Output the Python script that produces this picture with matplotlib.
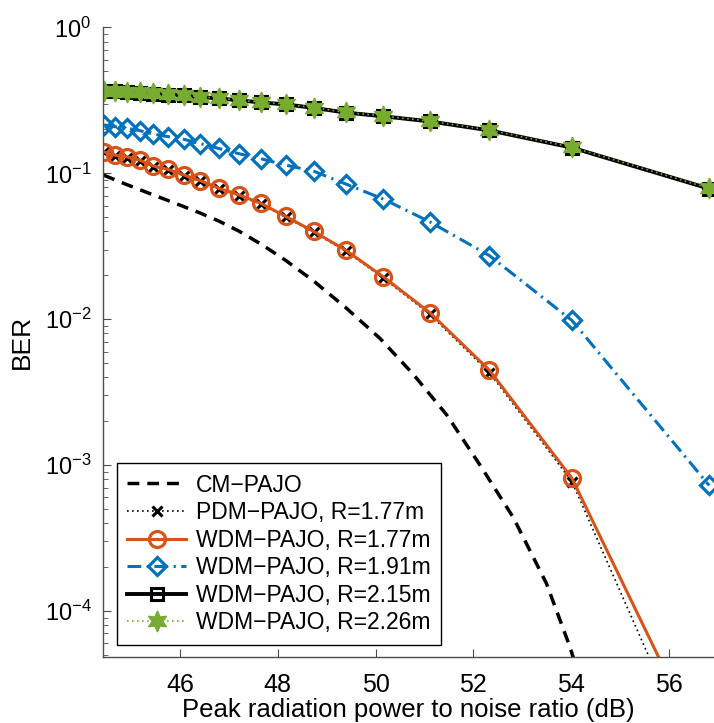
import matplotlib
matplotlib.use("Agg")
import matplotlib.pyplot as plt

plt.rcParams['font.family'] = ['Liberation Sans', 'DejaVu Sans']
plt.rcParams['mathtext.fontset'] = 'custom'
plt.rcParams['mathtext.rm'] = 'Liberation Sans'
plt.rcParams['mathtext.it'] = 'Liberation Sans:italic'

# ---- data ----
snr_db = [44.43, 44.66, 44.91, 45.17, 45.45, 45.75, 46.07, 46.41, 46.79, 47.20,
          47.65, 48.16, 48.73, 49.39, 50.16, 51.11, 52.33, 54.02, 56.83]

ber_wdm_226 = [0.368, 0.367, 0.363, 0.359, 0.353, 0.348, 0.343, 0.335, 0.327, 0.318,
               0.307, 0.298, 0.282, 0.262, 0.247, 0.228, 0.198, 0.151, 0.079]
ber_wdm_215 = [0.366, 0.365, 0.361, 0.357, 0.352, 0.347, 0.342, 0.334, 0.326, 0.317,
               0.306, 0.297, 0.281, 0.261, 0.246, 0.227, 0.197, 0.150, 0.0785]
ber_wdm_191 = [0.2145, 0.209, 0.2036, 0.1963, 0.186, 0.1785, 0.1713, 0.160, 0.148, 0.1364,
               0.126, 0.1139, 0.1035, 0.0845, 0.0666, 0.0465, 0.0273, 0.00981, 0.000725]
ber_wdm_177 = [0.1406, 0.1332, 0.1297, 0.1234, 0.1122, 0.1065, 0.0976, 0.0892, 0.0790, 0.0712,
               0.0623, 0.0506, 0.0400, 0.0297, 0.0195, 0.0111, 0.00447, 0.000813, 9.3e-6]
ber_pdm_177 = [0.139, 0.132, 0.128, 0.122, 0.111, 0.105, 0.0965, 0.088, 0.078, 0.0703,
               0.0615, 0.050, 0.0394, 0.0292, 0.0191, 0.0108, 0.0043, 0.00077, 5.6e-6]

cm_db = [44.43, 44.66, 44.91, 45.17, 45.45, 45.75, 46.07, 46.41, 46.79, 47.20, 47.65,
         48.16, 48.73, 49.39, 50.09, 50.77, 51.46, 52.14, 52.82, 53.50, 53.98, 54.40]
ber_cm = [0.0973, 0.0904, 0.0836, 0.0773, 0.0711, 0.0651, 0.0592, 0.0534, 0.0471, 0.0402, 0.0328,
          0.0253, 0.0183, 0.0120, 0.00739, 0.0042, 0.0022, 0.000998, 0.000437, 0.000154, 5.66e-5, 2.0e-5]

labels = ['CM\u2212PAJO', 'PDM\u2212PAJO, R=1.77m', 'WDM\u2212PAJO, R=1.77m',
          'WDM\u2212PAJO, R=1.91m', 'WDM\u2212PAJO, R=2.15m', 'WDM\u2212PAJO, R=2.26m']

orange = '#D95319'
blue = '#0072BD'
green = '#77AC30'

fig = plt.figure(figsize=(7.14, 7.23), dpi=100)
ax = fig.add_axes([0.1436, 0.0917, 0.8564, 0.8703])

ax.semilogy(cm_db, ber_cm, color='black', lw=2.5, dashes=(3.4, 2.3), label=labels[0])
ax.semilogy(snr_db, ber_pdm_177, color='black', lw=1.2, linestyle=(0, (1, 2)),
            marker='x', ms=7, mew=2.2, label=labels[1])
ax.semilogy(snr_db, ber_wdm_177, color=orange, lw=2.2, marker='o', ms=11.5,
            mfc='none', mew=2.3, label=labels[2])
ax.semilogy(snr_db, ber_wdm_191, color=blue, lw=2.2, linestyle=(0, (4.5, 1.8, 0.7, 1.8)),
            marker='D', ms=9.5, mfc='none', mew=2.3, label=labels[3])
ax.semilogy(snr_db, ber_wdm_215, color='black', lw=2.8, marker='s', ms=8.5,
            mfc='none', mew=2.2, label=labels[4])
ax.semilogy(snr_db, ber_wdm_226, color=green, lw=1.2, linestyle=(0, (1, 2)),
            marker=(6, 1, 0), ms=15, mfc=green, mec=green, mew=1, label=labels[5])

ax.set_xlim(44.41, 56.93)
ax.set_ylim(4.85e-5, 1)
ax.set_xticks([46, 48, 50, 52, 54, 56])

for s in ['top', 'right']:
    ax.spines[s].set_visible(False)
for s in ['left', 'bottom']:
    ax.spines[s].set_color('#4d4d4d')
    ax.spines[s].set_linewidth(1.0)

ax.tick_params(which='both', direction='in', colors='#4d4d4d', labelcolor='black')
ax.tick_params(which='major', length=6)
ax.tick_params(which='minor', length=3.5)
ax.tick_params(axis='x', pad=12, labelsize=18)
ax.tick_params(axis='y', pad=8, labelsize=17)

ax.set_xlabel('Peak radiation power to noise ratio (dB)', fontsize=18.5)
ax.xaxis.set_label_coords(0.5, -0.0664)
ax.set_ylabel('BER', fontsize=19, labelpad=8)

leg = ax.legend(loc='lower left', bbox_to_anchor=(0.023, 0.019), borderaxespad=0,
                fontsize=16.5, fancybox=False, edgecolor='black', framealpha=1,
                handlelength=2.6, handletextpad=0.4, labelspacing=0.2,
                borderpad=0.45)
leg.get_frame().set_linewidth(1.0)

fig.savefig('out.png', dpi=100)
